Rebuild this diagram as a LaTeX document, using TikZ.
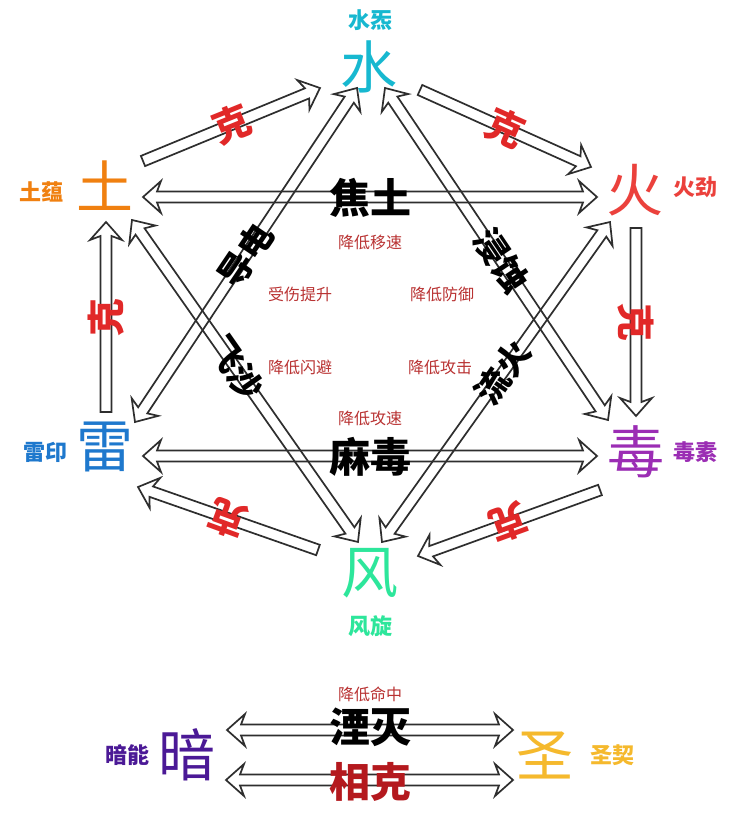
\documentclass[tikz,border=0pt]{standalone}
\usepackage{fontspec}
\setmainfont{Noto Sans CJK SC}
\usetikzlibrary{calc}
\definecolor{shuic}{HTML}{17B8D0}
\definecolor{huoc}{HTML}{EB413C}
\definecolor{duc}{HTML}{9B2DB4}
\definecolor{fengc}{HTML}{2DE69B}
\definecolor{leic}{HTML}{1E78CD}
\definecolor{tuc}{HTML}{F08010}
\definecolor{anc}{HTML}{4B1996}
\definecolor{shengc}{HTML}{F5B92D}
\definecolor{kered}{HTML}{E12828}
\definecolor{xkred}{HTML}{B4191E}
\definecolor{notered}{HTML}{B93232}
\definecolor{arrowgray}{HTML}{2E2E2E}
\tikzset{
  big/.style={font=\fontsize{57}{60}\selectfont, inner sep=0pt},
  tag/.style={font=\fontsize{22}{24}\selectfont\bfseries, inner sep=0pt},
  kelab/.style={font=\fontsize{38}{40}\selectfont\bfseries, text=kered, inner sep=0pt},
  midlab/.style={font=\fontsize{41}{44}\selectfont\bfseries, inner sep=0pt},
  diaglab/.style={font=\fontsize{34}{38}\selectfont\bfseries, inner sep=0pt},
  note/.style={font=\fontsize{16}{18}\selectfont, text=notered, inner sep=0pt},
  arrowline/.style={draw=arrowgray, line width=1.7pt, line join=miter},
}
% single-headed block arrow outline from #1 to #2
\newcommand\onearrow[2]{%
  \path let \p1=($(#2)-(#1)$) in \pgfextra{%
    \pgfmathparse{atan2(\y1,\x1)}\xdef\bkang{\pgfmathresult}%
    \pgfmathparse{veclen(\x1,\y1)}\xdef\bklen{\pgfmathresult}};
  \begin{scope}[shift={(#1)}, rotate=\bkang]
    \draw[arrowline] (0,5.5) -- ({\bklen-14},5.5) -- ({\bklen-18},16) -- (\bklen,0)
      -- ({\bklen-18},-16) -- ({\bklen-14},-5.5) -- (0,-5.5) -- cycle;
  \end{scope}}
% double-headed block arrow outline between #1 and #2
\newcommand\twoarrow[2]{%
  \path let \p1=($(#2)-(#1)$) in \pgfextra{%
    \pgfmathparse{atan2(\y1,\x1)}\xdef\bkang{\pgfmathresult}%
    \pgfmathparse{veclen(\x1,\y1)}\xdef\bklen{\pgfmathresult}};
  \begin{scope}[shift={(#1)}, rotate=\bkang]
    \draw[arrowline] (14,5.5) -- ({\bklen-14},5.5) -- ({\bklen-18},16) -- (\bklen,0)
      -- ({\bklen-18},-16) -- ({\bklen-14},-5.5) -- (14,-5.5) -- (18,-16) -- (0,0)
      -- (18,16) -- cycle;
  \end{scope}}
\begin{document}
\begin{tikzpicture}[x=1pt, y=-1pt]
\useasboundingbox (0,0) rectangle (736,821);
\fill[white] (0,0) rectangle (736,821);

% element characters
\node[big, text=shuic] (shui) at (369,67) {水};
\node[big, text=huoc] (huo) at (635,190) {火};
\node[big, text=duc] (du) at (636,452) {毒};
\node[big, text=fengc] (feng) at (370,573) {风};
\node[big, text=leic] (lei) at (105,447) {雷};
\node[big, text=tuc] (tu) at (105,186) {土};
\node[big, text=anc] (an) at (187,755) {暗};
\node[big, text=shengc] (sheng) at (545,755) {圣};

% element tags
\node[tag, text=shuic] (shuitag) at (370,20) {水炁};
\node[tag, text=huoc] (huotag) at (695,187) {火劲};
\node[tag, text=duc] (dutag) at (695,452) {毒素};
\node[tag, text=fengc] (fengtag) at (370,626) {风旋};
\node[tag, text=leic] (leitag) at (45,452) {雷印};
\node[tag, text=tuc] (tutag) at (41,192) {土蕴};
\node[tag, text=anc] (antag) at (127,755) {暗能};
\node[tag, text=shengc] (shengtag) at (612,755) {圣契};

% arrow end points
\coordinate (a1s) at (143,161); \coordinate (a1e) at (320,88);
\coordinate (a2s) at (420,90);  \coordinate (a2e) at (591,167);
\coordinate (a3s) at (636,228); \coordinate (a3e) at (636,416);
\coordinate (a4s) at (600,490); \coordinate (a4e) at (418,556);
\coordinate (a5s) at (318,550); \coordinate (a5e) at (138,487);
\coordinate (a6s) at (106,412); \coordinate (a6e) at (106,222);
\coordinate (h1a) at (143,197); \coordinate (h1b) at (597,197);
\coordinate (h2a) at (143,456); \coordinate (h2b) at (597,456);
\coordinate (d1a) at (135,422); \coordinate (d1b) at (357,88);
\coordinate (d2a) at (132,220); \coordinate (d2b) at (358,542);
\coordinate (d3a) at (385,88);  \coordinate (d3b) at (608,420);
\coordinate (d4a) at (382,542); \coordinate (d4b) at (610,222);
\coordinate (b1a) at (227,730); \coordinate (b1b) at (513,730);
\coordinate (b2a) at (226,780); \coordinate (b2b) at (513,780);

% restraint cycle
\onearrow{a1s}{a1e}
\onearrow{a2s}{a2e}
\onearrow{a3s}{a3e}
\onearrow{a4s}{a4e}
\onearrow{a5s}{a5e}
\onearrow{a6s}{a6e}
% mutual reactions
\twoarrow{h1a}{h1b}
\twoarrow{h2a}{h2b}
\twoarrow{d1a}{d1b}
\twoarrow{d2a}{d2b}
\twoarrow{d3a}{d3b}
\twoarrow{d4a}{d4b}
\twoarrow{b1a}{b1b}
\twoarrow{b2a}{b2b}

% 克 labels
\node[kelab, rotate=22] (k1) at ($(a1s)!0.5!(a1e)$) {克};
\node[kelab, rotate=-24] (k2) at ($(a2s)!0.5!(a2e)$) {克};
\node[kelab, rotate=-90] (k3) at ($(a3s)!0.5!(a3e)$) {克};
\node[kelab, rotate=200] (k4) at ($(a4s)!0.5!(a4e)$) {克};
\node[kelab, rotate=160] (k5) at ($(a5s)!0.5!(a5e)$) {克};
\node[kelab, rotate=90] (k6) at ($(a6s)!0.5!(a6e)$) {克};

% reaction labels
\node[midlab] (jiaotu) at (370,198) {焦土};
\node[midlab] (madu) at (370,457) {麻毒};
\node[diaglab, rotate=56] (daodian) at ($(d1a)!0.5!(d1b)$) {导电};
\node[diaglab, rotate=-55] (feisha) at ($(d2a)!0.46!(d2b)$) {飞沙};
\node[diaglab, rotate=-56] (jinshi) at ($(d3a)!0.52!(d3b)$) {浸蚀};
\node[diaglab, rotate=55] (liuhuo) at ($(d4a)!0.53!(d4b)$) {流火};
\node[midlab] (yanmie) at (370,727) {湮灭};
\node[midlab, text=xkred] (xiangke) at (370,782) {相克};

% effect notes
\node[note] (n1) at (370,242) {降低移速};
\node[note] (n2) at (300,294) {受伤提升};
\node[note] (n3) at (442,294) {降低防御};
\node[note] (n4) at (300,367) {降低闪避};
\node[note] (n5) at (440,367) {降低攻击};
\node[note] (n6) at (370,418) {降低攻速};
\node[note] (n7) at (370,694) {降低命中};
\end{tikzpicture}
\end{document}
